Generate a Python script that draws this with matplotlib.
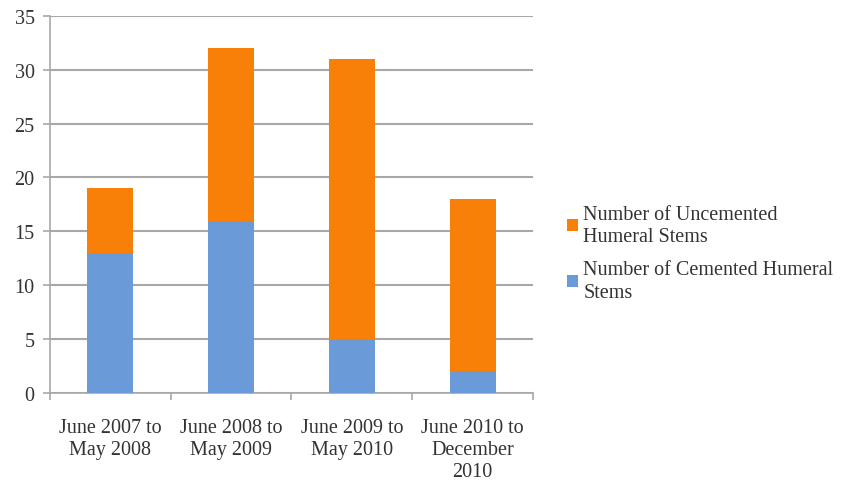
import matplotlib
matplotlib.use("Agg")
import matplotlib.pyplot as plt
import numpy as np

plt.rcParams['font.family'] = ['Liberation Serif', 'DejaVu Serif']

periods = ["June 2007 to\nMay 2008", "June 2008 to\nMay 2009",
           "June 2009 to\nMay 2010", "June 2010 to\nDecember\n2010"]
cemented = [13, 16, 5, 2]
uncemented = [6, 16, 26, 16]

fig = plt.figure(figsize=(8.46, 4.81), dpi=100)
ax = fig.add_axes([0.059, 0.181, 0.571, 0.784])

x = np.arange(len(periods))
b1 = ax.bar(x, cemented, width=0.38, color='#6A9BD8', zorder=3)
b2 = ax.bar(x, uncemented, width=0.38, bottom=cemented, color='#F88008', zorder=3)

ax.set_xlim(-0.5, 3.5)
ax.set_ylim(0, 35)
ax.set_yticks(range(0, 36, 5))
ax.yaxis.grid(True, color='#A8A8A8', linewidth=1.5)
ax.set_axisbelow(True)

ax.set_xticks(x)
ax.set_xticklabels(periods, fontsize=14.5, color='#333333', linespacing=1.2)
ax.tick_params(axis='x', length=0, pad=18)
ax.set_xticks(np.arange(-0.5, 4, 1), minor=True)
ax.tick_params(axis='x', which='minor', length=5, color='#A8A8A8', width=1.2)
ax.tick_params(axis='y', labelsize=14.5, labelcolor='#333333', length=5, color='#A8A8A8', width=1.2, pad=6)

for s in ['top', 'right']:
    ax.spines[s].set_visible(False)
for s in ['left', 'bottom']:
    ax.spines[s].set_color('#A8A8A8')
    ax.spines[s].set_linewidth(1.2)

leg = fig.legend([b2, b1], ["Number of Uncemented\nHumeral Stems", "Number of Cemented Humeral\nStems"],
                 loc='upper left', bbox_to_anchor=(0.649, 0.61), frameon=False, fontsize=14.5,
                 handlelength=0.55, handleheight=0.55, handletextpad=0.25, labelspacing=0.7,
                 labelcolor='#333333')
for t in leg.get_texts():
    t.set_linespacing(1.25)

fig.savefig("out.png", dpi=100)
